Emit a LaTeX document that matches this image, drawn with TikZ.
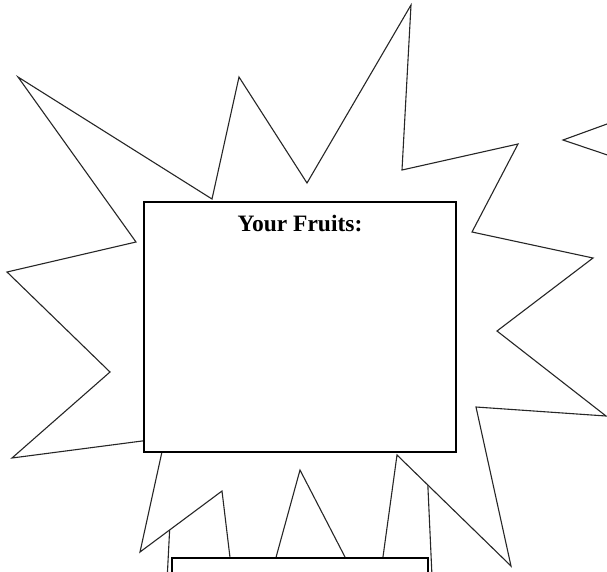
\documentclass[tikz,border=0pt]{standalone}
\usepackage{fontspec}
\setmainfont{Liberation Serif}
\usetikzlibrary{positioning}

\begin{document}
\begin{tikzpicture}[x=1pt, y=-1pt,
    burst/.style={draw=black!85, line width=1.1pt, line join=miter, fill=white},
    box/.style={draw=black, line width=1.5pt, fill=white, inner sep=0pt}]
            % Page area
            \clip (0,0) rectangle (607,571);

            % Second burst, mostly hidden
            \draw[burst, fill=none] (174,445) -- (426,445) -- (434,620) -- (165,620) -- cycle;

            % Main burst
            \draw[burst] (18,77) -- (212,199) -- (239,77) -- (307,183) -- (411,5) -- (402,170)
                -- (518,144) -- (472,232) -- (593,258) -- (497,331) -- (606,416) -- (476,407)
                -- (511,566) -- (397,455) -- (375,615) -- (300,470) -- (244,674) -- (222,491)
                -- (140,552) -- (165,438) -- (12,458) -- (110,372) -- (7,272) -- (136,242) -- cycle;

            % Fruit box
            \node[box, minimum width=312pt, minimum height=250pt] (fruits) at (300,327) {};
            \node[anchor=base, font=\bfseries\fontsize{23.5}{28}\selectfont] (title)
                at ([yshift=-30pt]fruits.north) {Your Fruits:};

            % Next box below
            \node[box, minimum width=256pt, minimum height=100pt] (nextbox) at (300,608) {};

            % Edge of the next burst on the right
            \draw[burst, fill=none] (640,112) -- (563,140) -- (640,166);
        \end{tikzpicture}
\end{document}
